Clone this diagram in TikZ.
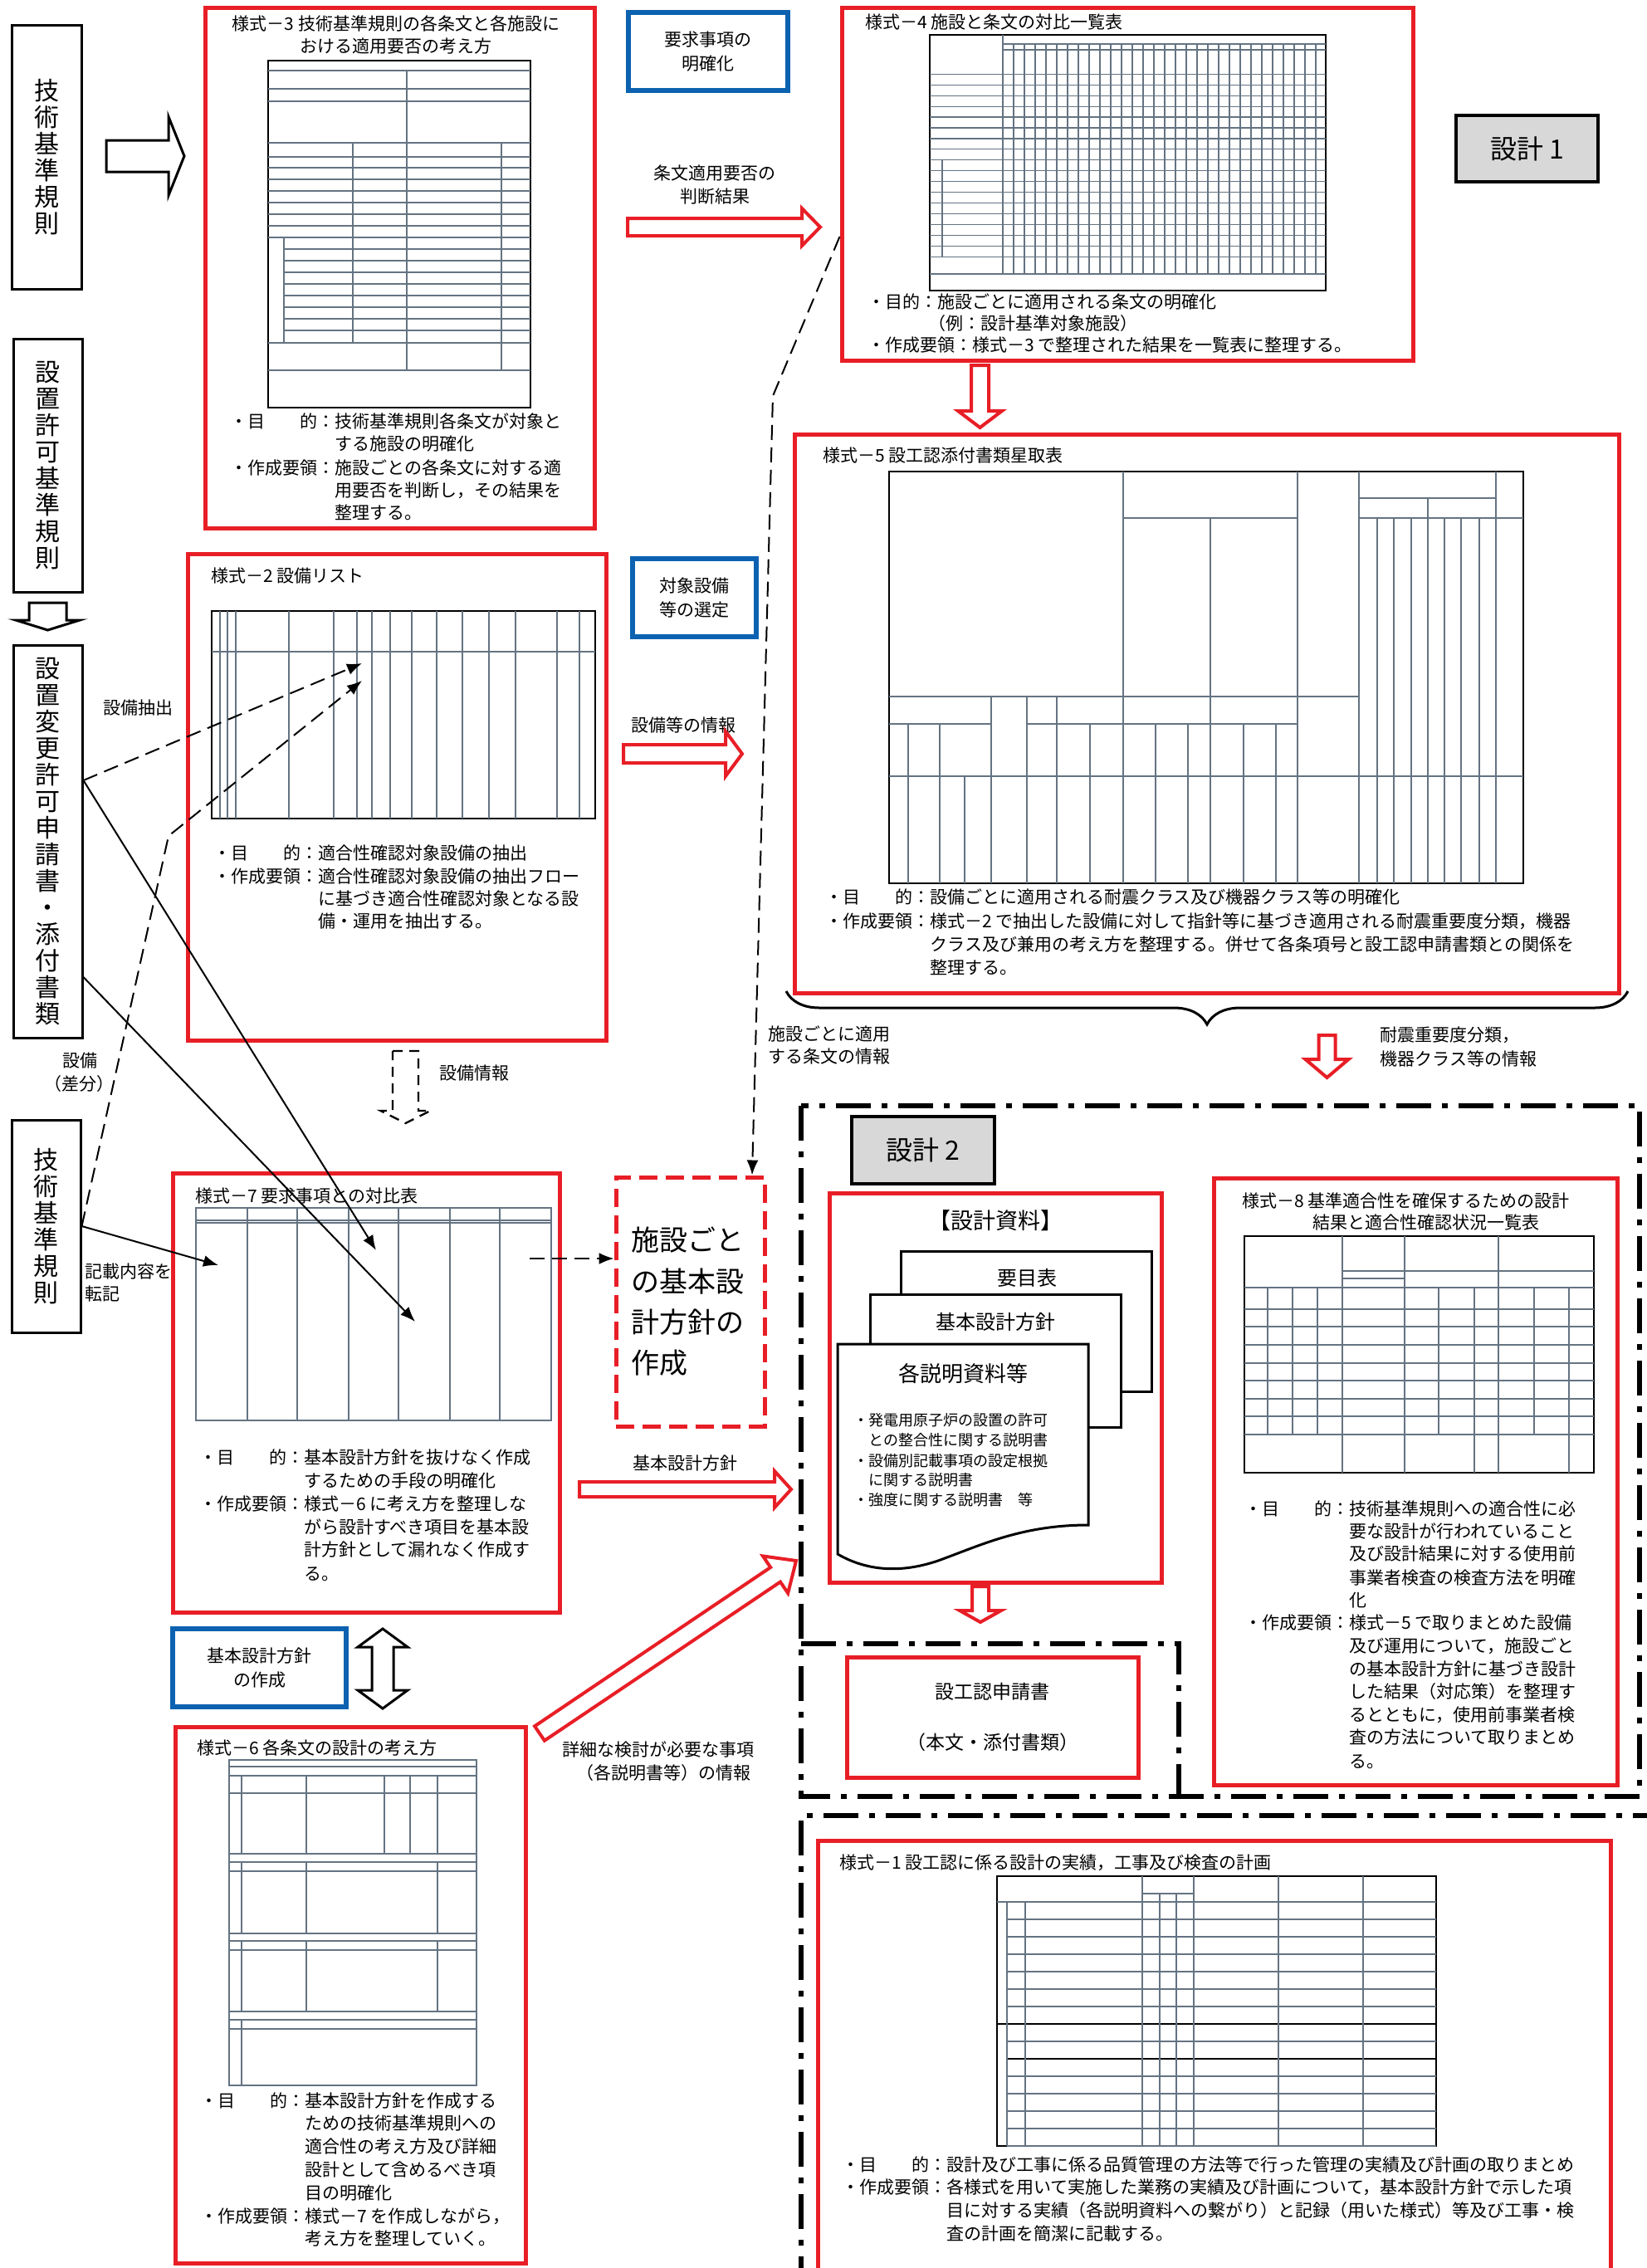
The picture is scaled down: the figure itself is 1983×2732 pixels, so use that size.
\documentclass[tikz,border=0pt]{standalone}
\usepackage{fontspec}
\setmainfont{Noto Sans CJK JP}
\usetikzlibrary{fit,decorations.pathreplacing,arrows.meta}
\definecolor{cred}{RGB}{232,30,38}
\definecolor{cblue}{RGB}{12,98,176}
\definecolor{cgray}{RGB}{216,216,216}
\definecolor{tline}{RGB}{100,115,130}
\newcommand\jst{\rule[-0.12em]{0pt}{1em}}
\newcommand\fbody{\fontsize{10.5pt}{13.8pt}\selectfont}
\newcommand\fvert{\fontsize{15pt}{16pt}\selectfont}
\newcommand\fsmall{\fontsize{9pt}{12pt}\selectfont}
\newcommand\fdoc{\fontsize{12pt}{14pt}\selectfont}
\newcommand\fdocb{\fontsize{13pt}{15pt}\selectfont}
\newcommand\fbig{\fontsize{17pt}{20pt}\selectfont}
\newcommand\fsek{\fontsize{16pt}{18pt}\selectfont}
\newcommand\fshin{\fontsize{11.5pt}{30.5pt}\selectfont}
\newcommand\tx[4]{\node[tx] (#1) at (#2,#3) {#4};}
\newcommand\txc[4]{\node[txc] (#1) at (#2,#3) {#4};}
\newcommand\tabH[3]{\draw[tbl] (#1,#3) -- (#2,#3)}
\newcommand\tabV[3]{\draw[tbl] (#1,#2) -- (#1,#3)}
% hollow arrows: style, x1, x2, yc, bodyhalf, headhalf, headlen
\newcommand\arR[7]{\draw[#1] (#2,#4-#5) -- (#3-#7,#4-#5) -- (#3-#7,#4-#6) -- (#3,#4) -- (#3-#7,#4+#6) -- (#3-#7,#4+#5) -- (#2,#4+#5) -- cycle;}
% style, xc, y1, y2, bodyhalf, headhalf, headlen
\newcommand\arD[7]{\draw[#1] (#2-#5,#3) -- (#2+#5,#3) -- (#2+#5,#4-#7) -- (#2+#6,#4-#7) -- (#2,#4) -- (#2-#6,#4-#7) -- (#2-#5,#4-#7) -- cycle;}
\newcommand\arUD[7]{\draw[#1] (#2,#3) -- (#2+#6,#3+#7) -- (#2+#5,#3+#7) -- (#2+#5,#4-#7) -- (#2+#6,#4-#7) -- (#2,#4) -- (#2-#6,#4-#7) -- (#2-#5,#4-#7) -- (#2-#5,#3+#7) -- (#2-#6,#3+#7) -- cycle;}
\begin{document}
\begin{tikzpicture}[x=0.5pt,y=-0.5pt,
  redbox/.style={draw=cred,line width=2.5pt,fill=white,inner sep=0pt},
  reddash/.style={draw=cred,line width=2.5pt,dash pattern=on 11pt off 5pt,fill=white,inner sep=0pt},
  bluebox/.style={draw=cblue,line width=3pt,fill=white,inner sep=0pt,align=center,font=\fontsize{10.5pt}{14.5pt}\selectfont},
  blkbox/.style={draw=black,line width=1.5pt,fill=white,inner sep=0pt,align=center,font=\fvert},
  graybox/.style={draw=black,line width=2pt,fill=cgray,inner sep=0pt,font=\fsek},
  tx/.style={anchor=west,inner sep=0pt,font=\fbody,execute at begin node=\jst},
  txc/.style={anchor=center,inner sep=0pt,font=\fbody,execute at begin node=\jst},
  tbl/.style={draw=tline,line width=0.6pt},
  tbo/.style={draw=black,line width=1.1pt},
  harb/.style={draw=black,line width=1.5pt,fill=white,line join=miter},
  harr/.style={draw=cred,line width=2pt,fill=white,line join=miter},
  hdash/.style={draw=black,line width=1.2pt,fill=white,dash pattern=on 6pt off 4pt},
  conn/.style={draw=black,line width=1pt},
  dsh/.style={draw=black,line width=1pt,dash pattern=on 9pt off 4.5pt},
  tip/.style={-{Latex[length=9pt,width=7pt]}},
  dashdot/.style={draw=black,line width=3pt,dash pattern=on 21pt off 6.5pt on 3.5pt off 6.5pt},
  docp/.style={draw=black,line width=1.5pt,fill=white}]
\useasboundingbox (0,0) rectangle (1983,2732);
\fill[white] (0,0) rectangle (1983,2732);

% ---------- left vertical boxes ----------
\node[blkbox,minimum width=42pt,minimum height=159pt] (k1) at (56,189) {技\\術\\基\\準\\規\\則};
\node[blkbox,minimum width=41.5pt,minimum height=152.5pt] (k2) at (57.5,560.5) {設\\置\\許\\可\\基\\準\\規\\則};
\node[blkbox,minimum width=41.5pt,minimum height=236.5pt] (k3) at (57.5,1013.5) {設\\置\\変\\更\\許\\可\\申\\請\\書\\・\\添\\付\\書\\類};
\node[blkbox,minimum width=41.5pt,minimum height=128pt] (k4) at (55.5,1477) {技\\術\\基\\準\\規\\則};

% ---------- blue boxes ----------
\node[bluebox,minimum width=96pt,minimum height=47pt] (b1) at (853,62) {要求事項の\\明確化};
\node[bluebox,minimum width=74.5pt,minimum height=47pt] (b2) at (836.5,720) {対象設備\\等の選定};
\node[bluebox,minimum width=104.5pt,minimum height=47pt] (b3) at (312.5,2009) {基本設計方針\\の作成};

% ---------- gray boxes ----------
\node[graybox,minimum width=85.5pt,minimum height=40pt] (g1) at (1839.5,179) {設計 1};

% ---------- dash-dot regions ----------
\draw[dashdot] (965,1332) rectangle (1975,2164);
\draw[dashdot] (965,1980) -- (1420,1980) -- (1420,2164);
\draw[dashdot] (965,2760) -- (965,2187) -- (2000,2187);
\node[graybox,minimum width=86pt,minimum height=40.5pt] (g2) at (1112,1385.5) {設計 2};

% ---------- red boxes ----------
\node[redbox,fit={(247,9) (716,636)}] (f3) {};
\node[redbox,fit={(1014,9) (1702,434)}] (f4) {};
\node[redbox,fit={(957,523) (1950,1196)}] (f5) {};
\node[redbox,fit={(226,667) (730,1253)}] (f2) {};
\node[redbox,fit={(208,1413) (674,1942)}] (f7) {};
\node[redbox,fit={(211,2080) (633,2726)}] (f6) {};
\node[redbox,fit={(999,1437) (1399,1906)}] (fd) {};
\node[redbox,fit={(1462,1419) (1948,2150)}] (f8) {};
\node[redbox,fit={(985,2217) (1940,2780)}] (f1) {};
\node[reddash,fit={(742,1418) (921,1718)}] (fb) {};
\node[redbox,minimum width=175.5pt,minimum height=72.5pt,align=center,font=\fshin] (fa) at (1195.5,2068.5) {設工認申請書\\（本文・添付書類）};

% ---------- table 3 ----------
\draw[tbo] (323,73) rectangle (639,491);
\foreach \y in {85,107,122,172,189,202,216,230,244,258,272,286,413,446} {\tabH{323}{639}{\y};}
\foreach \y in {300,314,328,342,356,370,384,398} {\tabH{342}{639}{\y};}
\tabV{490}{85}{446}; \tabV{425}{172}{413}; \tabV{604}{172}{446}; \tabV{342}{286}{413};

% ---------- table 4 ----------
\draw[tbo] (1120,42) rectangle (1597,350);
\tabH{1208}{1597}{53}; \tabH{1208}{1597}{60};
\tabV{1208}{42}{330};
\foreach \i in {1,...,29} {\tabV{1208+13*\i}{53}{330};}
\foreach \i in {0,...,17} {\tabH{1120}{1597}{89.3+12.94*\i};}
\tabH{1120}{1597}{330};
\tabV{1135}{193}{309};

% ---------- table 5 ----------
\draw[tbo] (1071,568) rectangle (1835,1064);
\foreach \x in {1353,1563,1637,1802} {\tabV{\x}{568}{1064};}
\tabV{1458}{624}{1064};
\tabH{1353}{1563}{624};
\tabH{1071}{1637}{839};
\tabH{1637}{1802}{600}; \tabH{1637}{1835}{624};
\tabV{1720}{600}{1064};
\foreach \x in {1659,1679,1700,1740,1760,1782} {\tabV{\x}{624}{1064};}
\tabH{1071}{1835}{935};
\tabV{1194}{839}{1064}; \tabV{1237}{839}{1064}; \tabV{1273}{839}{1064};
\foreach \x in {1094,1132,1313,1392,1431,1498,1537} {\tabV{\x}{872}{1064};}
\tabV{1162}{935}{1064};
\tabH{1071}{1194}{872}; \tabH{1237}{1563}{872};

% ---------- table 2 ----------
\draw[tbo] (255,736) rectangle (717,986);
\tabH{255}{717}{785};
\foreach \x in {265,274,284,348,402,430,448,470,496,526,557,589,621,671,698} {\tabV{\x}{736}{986};}

% ---------- table 7 ----------
\draw[tbl] (236,1455) rectangle (664,1711);
\tabH{236}{664}{1470}; \tabH{236}{664}{1473};
\foreach \x in {298,358,420,480,542,602} {\tabV{\x}{1455}{1711};}

% ---------- table 6 ----------
\draw[tbl] (276,2120) rectangle (574,2512);
\foreach \y in {2128,2139,2160,2233,2243,2254,2329,2338,2349,2423,2433,2444} {\tabH{276}{574}{\y};}
\foreach \x in {291,369,463,494,527} {\tabV{\x}{2139}{2233};}
\foreach \x in {291,369,527} {\tabV{\x}{2243}{2329}; \tabV{\x}{2338}{2423};}
\tabV{291}{2433}{2512};

% ---------- table 8 ----------
\draw[tbo] (1499,1489) rectangle (1920,1774);
\foreach \x in {1617,1692,1805} {\tabV{\x}{1489}{1774};}
\tabH{1617}{1920}{1531}; \tabH{1617}{1692}{1540}; \tabH{1499}{1920}{1551};
\foreach \x in {1527,1557,1587,1733,1848} {\tabV{\x}{1551}{1728};}
\foreach \x in {1776,1890} {\tabV{\x}{1551}{1774};}
\foreach \y in {1577,1598,1620,1642,1663,1685,1706,1728} {\tabH{1499}{1920}{\y};}

% ---------- table 1 ----------
\draw[tbo] (1201,2260) rectangle (1730,2585);
\tabH{1201}{1730}{2291};
\foreach \i in {1,...,14} {\tabH{1213}{1730}{2291+21*\i};}
\draw[tbo] (1201,2438) -- (1730,2438); \draw[tbo] (1213,2480) -- (1730,2480);
\tabV{1213}{2291}{2585}; \tabV{1235}{2291}{2585};
\foreach \x in {1376,1438,1540,1642} {\tabV{\x}{2260}{2585};}
\foreach \x in {1397,1417} {\tabV{\x}{2281}{2585};}
\tabH{1376}{1438}{2281};

% ---------- design documents ----------
\txc{d0}{1199}{1470}{\fontsize{13.5pt}{15pt}\selectfont 【設計資料】}
\draw[docp] (1085,1507) rectangle (1387,1676);
\draw[docp] (1048,1559) rectangle (1350,1719);
\draw[docp] (1009,1872) -- (1009,1619) -- (1311,1619) -- (1311,1837) .. controls (1230,1837) and (1180,1862) .. (1130,1880) .. controls (1080,1897) and (1040,1890) .. (1009,1872) -- cycle;
\txc{d1}{1237}{1540}{\fdoc 要目表}
\txc{d2}{1199}{1593}{\fdoc 基本設計方針}
\txc{d3}{1160}{1655}{\fdocb 各説明資料等}
\tx{d4}{1028}{1709}{\fsmall ・発電用原子炉の設置の許可}
\tx{d5}{1028}{1733}{\fsmall 　との整合性に関する説明書}
\tx{d6}{1028}{1758}{\fsmall ・設備別記載事項の設定根拠}
\tx{d7}{1028}{1781}{\fsmall 　に関する説明書}
\tx{d8}{1028}{1805}{\fsmall ・強度に関する説明書　等}

% ---------- texts of forms ----------
\txc{t3t1}{477}{29}{様式－3 技術基準規則の各条文と各施設に}
\txc{t3t2}{477}{56}{おける適用要否の考え方}
\tx{t3l1}{277}{508}{・目　　的：}
\tx{t3b1}{403}{508}{技術基準規則各条文が対象と}
\tx{t3b2}{403}{535}{する施設の明確化}
\tx{t3l2}{277}{564}{・作成要領：}
\tx{t3b3}{403}{564}{施設ごとの各条文に対する適}
\tx{t3b4}{403}{591}{用要否を判断し，その結果を}
\tx{t3b5}{403}{618}{整理する。}

\tx{t4t}{1042}{27}{様式－4 施設と条文の対比一覧表}
\tx{t4b1}{1045}{364}{・目的：施設ごとに適用される条文の明確化}
\tx{t4b2}{1118}{390}{（例：設計基準対象施設）}
\tx{t4b3}{1045}{416}{・作成要領：様式－3 で整理された結果を一覧表に整理する。}

\tx{t5t}{991}{549}{様式－5 設工認添付書類星取表}
\tx{t5l1}{994}{1081}{・目　　的：}
\tx{t5b1}{1120}{1081}{設備ごとに適用される耐震クラス及び機器クラス等の明確化}
\tx{t5l2}{994}{1110}{・作成要領：}
\tx{t5b2}{1120}{1110}{様式－2 で抽出した設備に対して指針等に基づき適用される耐震重要度分類，機器}
\tx{t5b3}{1120}{1138}{クラス及び兼用の考え方を整理する。併せて各条項号と設工認申請書類との関係を}
\tx{t5b4}{1120}{1166}{整理する。}

\tx{t2t}{254}{694}{様式－2 設備リスト}
\tx{t2l1}{257}{1028}{・目　　的：}
\tx{t2b1}{383}{1028}{適合性確認対象設備の抽出}
\tx{t2l2}{257}{1056}{・作成要領：}
\tx{t2b2}{383}{1056}{適合性確認対象設備の抽出フロー}
\tx{t2b3}{383}{1083}{に基づき適合性確認対象となる設}
\tx{t2b4}{383}{1110}{備・運用を抽出する。}

\tx{t7t}{235}{1440}{様式－7 要求事項との対比表}
\tx{t7l1}{240}{1755}{・目　　的：}
\tx{t7b1}{366}{1755}{基本設計方針を抜けなく作成}
\tx{t7b2}{366}{1783}{するための手段の明確化}
\tx{t7l2}{240}{1811}{・作成要領：}
\tx{t7b3}{366}{1811}{様式－6 に考え方を整理しな}
\tx{t7b4}{366}{1839}{がら設計すべき項目を基本設}
\tx{t7b5}{366}{1866}{計方針として漏れなく作成す}
\tx{t7b6}{366}{1895}{る。}

\tx{t6t}{237}{2105}{様式－6 各条文の設計の考え方}
\tx{t6l1}{241}{2530}{・目　　的：}
\tx{t6b1}{367}{2530}{基本設計方針を作成する}
\tx{t6b2}{367}{2557}{ための技術基準規則への}
\tx{t6b3}{367}{2585}{適合性の考え方及び詳細}
\tx{t6b4}{367}{2613}{設計として含めるべき項}
\tx{t6b5}{367}{2641}{目の明確化}
\tx{t6l2}{241}{2669}{・作成要領：}
\tx{t6b6}{367}{2669}{様式－7 を作成しながら，}
\tx{t6b7}{367}{2696}{考え方を整理していく。}

\tx{t8t1}{1496}{1446}{様式－8 基準適合性を確保するための設計}
\tx{t8t2}{1581}{1472}{結果と適合性確認状況一覧表}
\tx{t8l1}{1499}{1817}{・目　　的：}
\tx{t8b1}{1625}{1817}{技術基準規則への適合性に必}
\tx{t8b2}{1625}{1844}{要な設計が行われていること}
\tx{t8b3}{1625}{1871}{及び設計結果に対する使用前}
\tx{t8b4}{1625}{1900}{事業者検査の検査方法を明確}
\tx{t8b5}{1625}{1927}{化}
\tx{t8l2}{1499}{1954}{・作成要領：}
\tx{t8b6}{1625}{1954}{様式－5 で取りまとめた設備}
\tx{t8b7}{1625}{1982}{及び運用について，施設ごと}
\tx{t8b8}{1625}{2010}{の基本設計方針に基づき設計}
\tx{t8b9}{1625}{2037}{した結果（対応策）を整理す}
\tx{t8b10}{1625}{2065}{るとともに，使用前事業者検}
\tx{t8b11}{1625}{2092}{査の方法について取りまとめ}
\tx{t8b12}{1625}{2121}{る。}

\tx{t1t}{1011}{2243}{様式－1 設工認に係る設計の実績，工事及び検査の計画}
\tx{t1l1}{1014}{2607}{・目　　的：}
\tx{t1b1}{1140}{2607}{設計及び工事に係る品質管理の方法等で行った管理の実績及び計画の取りまとめ}
\tx{t1l2}{1014}{2634}{・作成要領：}
\tx{t1b2}{1140}{2634}{各様式を用いて実施した業務の実績及び計画について，基本設計方針で示した項}
\tx{t1b3}{1140}{2662}{目に対する実績（各説明資料への繋がり）と記録（用いた様式）等及び工事・検}
\tx{t1b4}{1140}{2690}{査の計画を簡潔に記載する。}

% big dashed box text
\tx{fb1}{760}{1494}{\fbig 施設ごと}
\tx{fb2}{760}{1544}{\fbig の基本設}
\tx{fb3}{760}{1593}{\fbig 計方針の}
\tx{fb4}{760}{1642}{\fbig 作成}

% ---------- labels ----------
\txc{l1}{861}{209}{条文適用要否の}
\txc{l2}{861}{237}{判断結果}
\txc{l3}{823}{874}{設備等の情報}
\txc{l4}{166}{853}{設備抽出}
\txc{l5}{96}{1278}{設備}
\txc{l6}{96}{1306}{（差分）}
\tx{l7}{529}{1293}{設備情報}
\tx{l8}{925}{1245}{施設ごとに適用}
\tx{l9}{925}{1273}{する条文の情報}
\tx{l10}{1662}{1247}{耐震重要度分類，}
\tx{l11}{1662}{1276}{機器クラス等の情報}
\tx{l12}{102}{1531}{記載内容を}
\tx{l13}{102}{1558}{転記}
\txc{l14}{825}{1762}{基本設計方針}
\txc{l15}{793}{2107}{詳細な検討が必要な事項}
\txc{l16}{799}{2135}{（各説明書等）の情報}

% ---------- brace ----------
\draw[line width=1.5pt,decorate,decoration={brace,amplitude=20pt}] (1961,1194) -- (947,1194);

% ---------- connectors ----------
\coordinate (t2a) at (436,799);
\coordinate (t2b) at (436,820);
\coordinate (bend1) at (203,1007);
\coordinate (t7a) at (453,1506);
\coordinate (t7b) at (500,1592);
\coordinate (t7c) at (263,1524);
\coordinate (bend2) at (931,477);
\coordinate (s7) at (638,1516);
\draw[dsh,tip] (k3.east |- 0,940) -- (t2a);
\draw[dsh,tip] (k4.east) -- (bend1) -- (t2b);
\draw[conn,tip] (k4.east) -- (t7c);
\draw[conn,tip] (k3.east |- 0,940) -- (t7a);
\draw[conn,tip] (k3.east |- 0,1177) -- (t7b);
\draw[dsh,tip] (f4.west |- 0,285) -- (bend2) -- (fb.north -| 906,0);
\draw[dsh,tip] (s7) -- (fb.west |- s7);

% ---------- hollow arrows ----------
\arR{harb}{128}{222}{188}{19}{47.5}{19}
\arD{harb}{57.5}{726}{759}{22.5}{38.5}{12}
\arR{harr}{756}{988}{273.5}{10.5}{22.5}{22}
\arR{harr}{751}{894}{908}{11}{27}{20}
\arD{harr}{1180.5}{440}{515}{10.5}{26.5}{20}
\arD{harr}{1598.5}{1247}{1298}{10}{26}{22}
\arR{harr}{698}{953}{1794}{9}{22}{20}
\arD{harr}{1181}{1911}{1954}{10}{25}{14}
\arUD{harb}{461}{1962}{2058}{13}{30}{22}
\arD{hdash}{488.5}{1266}{1353}{15.5}{30}{15}
\draw[harr] (644.1,2079.3) -- (928.2,1888.0) -- (919.0,1874.4) -- (959,1880) -- (949.2,1919.1) -- (940.0,1905.5) -- (655.9,2096.7) -- cycle;
\end{tikzpicture}
\end{document}
